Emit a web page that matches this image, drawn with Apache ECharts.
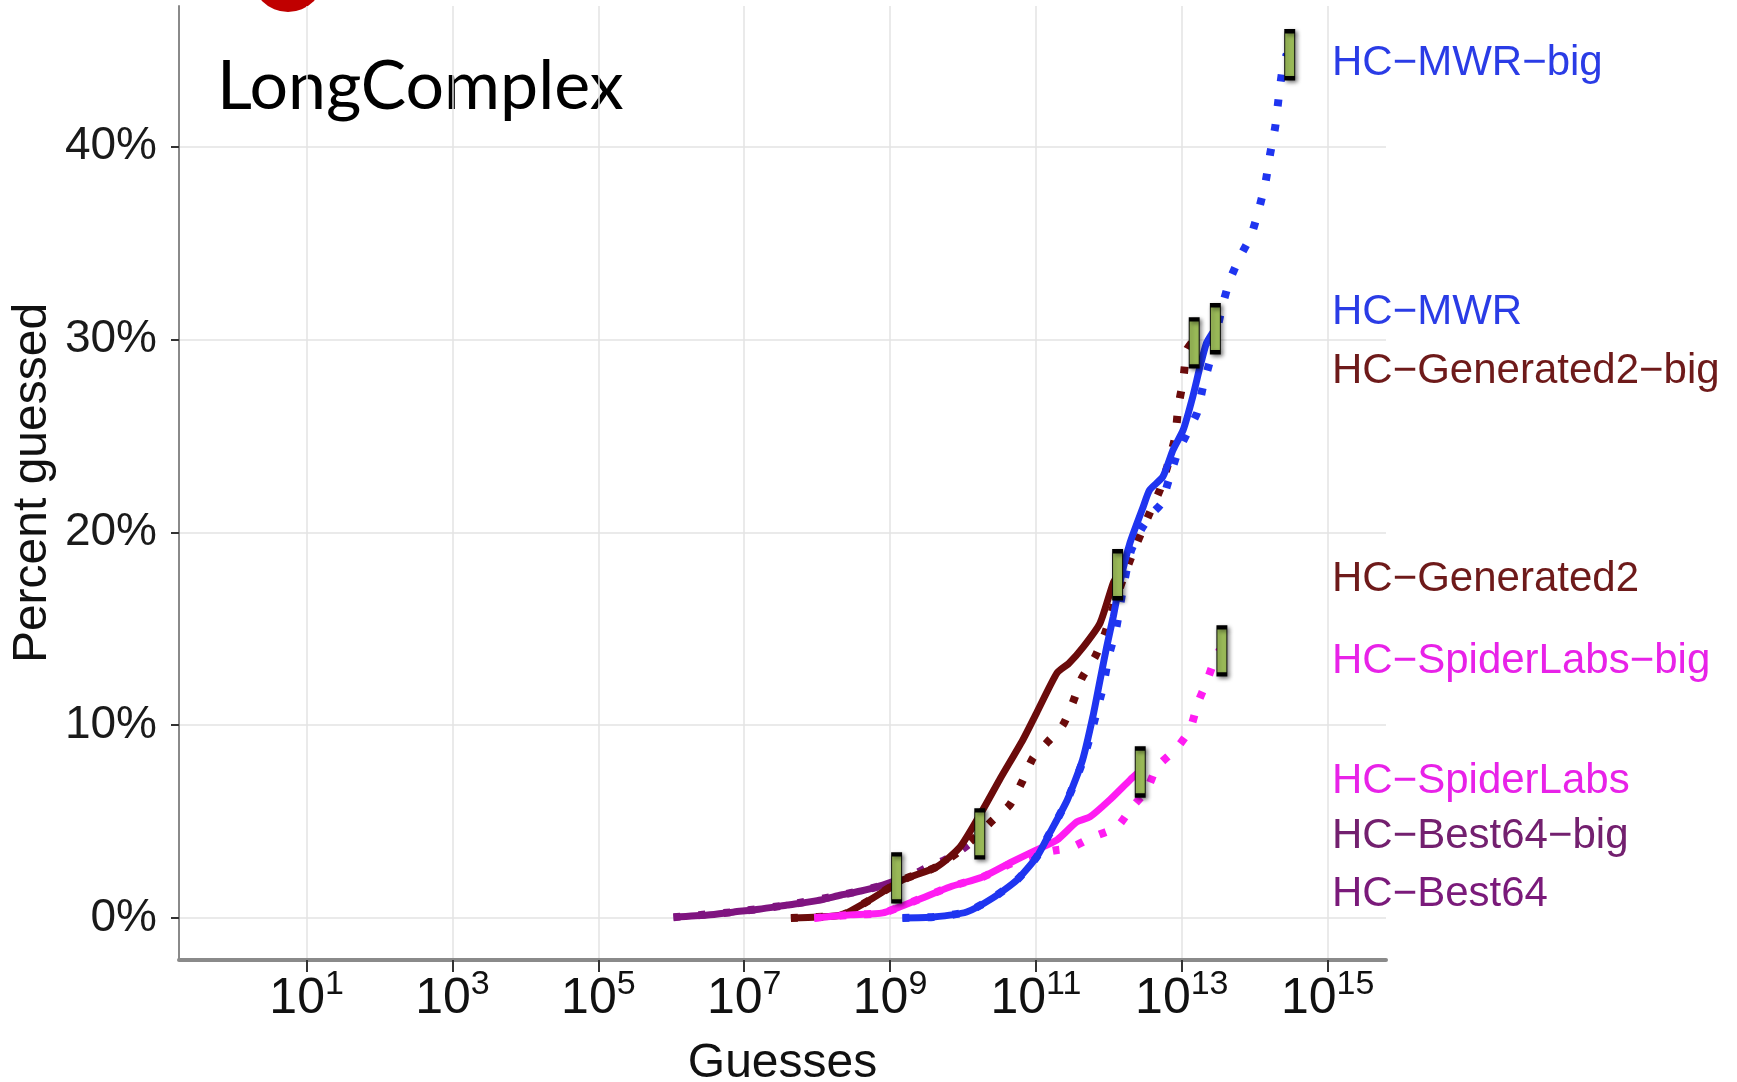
<!DOCTYPE html>
<html>
<head>
<meta charset="utf-8">
<title>LongComplex</title>
<script src="https://cdn.jsdelivr.net/npm/echarts@6.0.0/dist/echarts.min.js"></script>
<style>
html, body {margin:0; padding:0; background:#fff;}
#chart {width:1737px; height:1082px;}
</style>
</head>
<body>
<div id="chart"></div>
<script>
// x values are log10(guesses), y values are percent guessed
var best64Exp    = [6.03, 6.5, 6.86, 7.2, 7.59, 8.0, 8.33, 8.6, 8.82, 9.05];
var best64Pct    = [0.04, 0.15, 0.31, 0.45, 0.67, 0.9, 1.19, 1.4, 1.61, 1.9];
var best64BigExp = [6.03, 6.86, 7.59, 8.33, 8.82, 9.07, 9.3, 9.5, 9.75, 9.95, 10.2];
var best64BigPct = [0.04, 0.31, 0.67, 1.19, 1.61, 1.9, 2.2, 2.6, 3.0, 3.45, 4.2];

var gen2Exp    = [7.64, 8.0, 8.34, 8.72, 9.17, 9.64, 9.96, 10.27, 10.5, 10.82, 11.01, 11.29, 11.45, 11.65, 11.88, 12.06, 12.13];
var gen2Pct    = [0, 0.05, 0.16, 0.93, 1.97, 2.65, 3.68, 5.6, 7.16, 9.23, 10.64, 12.71, 13.2, 14.06, 15.3, 17.38, 17.8];
var gen2BigExp = [7.64, 8.34, 8.72, 9.17, 9.64, 9.96, 10.2, 10.41, 10.64, 10.81, 10.96, 11.16, 11.37, 11.51, 11.63, 11.81, 11.95, 12.06, 12.19, 12.33, 12.56, 12.7, 12.8, 12.91, 12.95, 13.02, 13.07, 13.15];
var gen2BigPct = [0, 0.16, 0.93, 1.97, 2.65, 3.5, 4.3, 5.08, 5.86, 7.06, 8.3, 9.13, 10.01, 11.21, 12.45, 13.54, 14.79, 16.13, 17.54, 18.94, 21.01, 22.2, 23.4, 24.95, 26.46, 27.91, 29.47, 29.9];

var spiderExp    = [7.96, 8.45, 8.9, 9.37, 9.82, 10.27, 10.64, 11.01, 11.29, 11.56, 11.74, 12.01, 12.29, 12.42];
var spiderPct    = [0, 0.16, 0.26, 0.93, 1.61, 2.13, 2.85, 3.53, 4.05, 4.98, 5.24, 6.12, 7.16, 7.6];
var spiderBigExp = [7.96, 8.45, 8.9, 9.37, 9.82, 10.27, 10.64, 11.0, 11.25, 11.47, 11.78, 12.11, 12.31, 12.52, 12.66, 12.91, 13.11, 13.22, 13.34, 13.45, 13.52];
var spiderBigPct = [0, 0.16, 0.26, 0.93, 1.61, 2.13, 2.8, 3.3, 3.5, 3.63, 4.2, 4.72, 5.71, 6.64, 7.83, 8.72, 9.75, 11.15, 12.24, 13.39, 13.9];

var mwrExp    = [9.17, 9.59, 10.05, 10.41, 10.74, 11.01, 11.19, 11.43, 11.64, 11.78, 11.88, 11.97, 12.06, 12.15, 12.29, 12.47, 12.56, 12.74, 12.88, 13.02, 13.15, 13.25, 13.34, 13.43];
var mwrPct    = [0, 0.05, 0.31, 1.04, 1.97, 3.16, 4.41, 6.12, 8.2, 10.43, 12.35, 14.06, 15.62, 17.38, 19.46, 21.32, 22.2, 22.88, 24.28, 25.32, 27.03, 28.59, 29.83, 30.4];
var mwrBigExp = [9.17, 9.59, 10.05, 10.41, 10.74, 11.01, 11.19, 11.43, 11.64, 11.8, 11.92, 12.0, 12.1, 12.18, 12.3, 12.45, 12.6, 12.72, 12.82, 12.94, 13.08, 13.21, 13.29, 13.39, 13.5, 13.56, 13.66, 13.8, 13.95, 14.06, 14.15, 14.21, 14.28, 14.33, 14.39, 14.44];
var mwrBigPct = [0, 0.05, 0.31, 1.04, 1.97, 3.16, 4.41, 6.12, 8.1, 10.2, 12.0, 13.6, 15.0, 16.8, 19.0, 20.2, 21.0, 21.5, 22.7, 24.1, 25.2, 26.2, 27.55, 28.95, 30.8, 31.8, 33.1, 34.3, 35.4, 36.8, 38.2, 39.6, 41.0, 42.6, 44.25, 44.8];

// green end markers
var markExp = [14.48, 13.17, 13.46, 12.12, 13.55, 12.43, 10.23, 9.09];
var markPct = [44.77, 29.83, 30.56, 17.8, 13.85, 7.57, 4.36, 2.08];

var xTicks = [1, 3, 5, 7, 9, 11, 13, 15];
var yTicks = [0, 10, 20, 30, 40];

var labelNames = ['HC\u2212MWR\u2212big', 'HC\u2212MWR', 'HC\u2212Generated2\u2212big', 'HC\u2212Generated2',
                  'HC\u2212SpiderLabs\u2212big', 'HC\u2212SpiderLabs', 'HC\u2212Best64\u2212big', 'HC\u2212Best64'];

var COLORS = {mwr: '#1f35f0', gen2: '#6b0b0b', spider: '#ff1cf2', best64: '#7f1480'};
var LABEL_COLORS = ['#2a3ce6', '#2a3ce6', '#6e1a1a', '#6e1a1a', '#e822e8', '#e822e8', '#73206f', '#7a1a7a'];
var LABEL_Y = [63, 312, 371, 579, 661, 781, 836, 894];
var SANS = '"Liberation Sans", Arial, sans-serif';

function pairs(xs, ys) {
    var out = [];
    for (var i = 0; i < xs.length; i++) out.push([xs[i], ys[i]]);
    return out;
}

function lineSeries(name, xs, ys, color, dotted) {
    return {
        name: name, type: 'line', data: pairs(xs, ys),
        showSymbol: false, smooth: 0.2, silent: true,
        lineStyle: dotted ? {color: color, width: 8, type: [7, 18], cap: 'butt'}
                          : {color: color, width: 7}
    };
}

var graphics = [
    {type: 'circle', shape: {cx: 288, cy: -24, r: 36}, style: {fill: '#c00000'}},
    {type: 'text', left: 217, top: 53, style: {text: 'LongComplex', font: '68px Lato', fill: '#000'}}
];
for (var i = 0; i < labelNames.length; i++) {
    graphics.push({type: 'text', x: 1332, y: LABEL_Y[i],
        style: {text: labelNames[i], font: '42px ' + SANS, fill: LABEL_COLORS[i],
                verticalAlign: 'middle', textVerticalAlign: 'middle'}});
}

var option = {
    animation: false,
    backgroundColor: '#fff',
    grid: {left: 179, right: 351, top: 6, bottom: 122, outerBoundsMode: 'none'},
    xAxis: {
        type: 'value', min: -0.75, max: 15.8,
        name: 'Guesses', nameLocation: 'middle', nameGap: 80, nameMoveOverlap: false,
        nameTextStyle: {fontFamily: SANS, fontSize: 48, color: '#111'},
        axisLine: {onZero: false, lineStyle: {color: '#8a8a8a', width: 4}},
        axisTick: {customValues: xTicks, length: 12, lineStyle: {color: '#333', width: 2}},
        axisLabel: {customValues: xTicks, margin: 8, color: '#111',
            formatter: function(v){ return '{b|10}{s|' + v + '}'; },
            rich: {
                b: {fontFamily: SANS, fontSize: 50, lineHeight: 56, verticalAlign: 'bottom', padding: [25, 0, 0, 0], color: '#111'},
                s: {fontFamily: SANS, fontSize: 34, lineHeight: 36, verticalAlign: 'top', color: '#111'}
            }},
        splitLine: {show: true, lineStyle: {color: '#e3e3e3', width: 1.5}}
    },
    yAxis: {
        type: 'value', min: -2.18, max: 47.3,
        name: 'Percent guessed', nameLocation: 'middle', nameGap: 122, nameMoveOverlap: false,
        nameTextStyle: {fontFamily: SANS, fontSize: 48, color: '#111'},
        axisLine: {show: true, onZero: false, lineStyle: {color: '#8a8a8a', width: 2}},
        axisTick: {show: true, customValues: yTicks, length: 8, lineStyle: {color: '#333', width: 2}},
        axisLabel: {customValues: yTicks, formatter: '{value}%', margin: 22,
            fontFamily: SANS, fontSize: 46, color: '#1a1a1a'},
        splitLine: {show: true, lineStyle: {color: '#e3e3e3', width: 1.5}}
    },
    graphic: graphics,
    series: [
        lineSeries('HC-Best64-big', best64BigExp, best64BigPct, COLORS.best64, true),
        lineSeries('HC-Best64', best64Exp, best64Pct, COLORS.best64, false),
        lineSeries('HC-Generated2-big', gen2BigExp, gen2BigPct, COLORS.gen2, true),
        lineSeries('HC-Generated2', gen2Exp, gen2Pct, COLORS.gen2, false),
        lineSeries('HC-SpiderLabs-big', spiderBigExp, spiderBigPct, COLORS.spider, true),
        lineSeries('HC-SpiderLabs', spiderExp, spiderPct, COLORS.spider, false),
        lineSeries('HC-MWR-big', mwrBigExp, mwrBigPct, COLORS.mwr, true),
        lineSeries('HC-MWR', mwrExp, mwrPct, COLORS.mwr, false),
        {
            name: 'end', type: 'scatter', data: pairs(markExp, markPct), silent: true, z: 10,
            symbol: 'rect', symbolSize: [10, 47],
            itemStyle: {color: '#9bbb59', borderColor: '#000', borderWidth: 2, opacity: 1,
                        shadowBlur: 4, shadowColor: 'rgba(0,0,0,0.45)', shadowOffsetX: 2, shadowOffsetY: 2}
        }
    ]
};

var chart = echarts.init(document.getElementById('chart'));
chart.setOption(option);
</script>
</body>
</html>
